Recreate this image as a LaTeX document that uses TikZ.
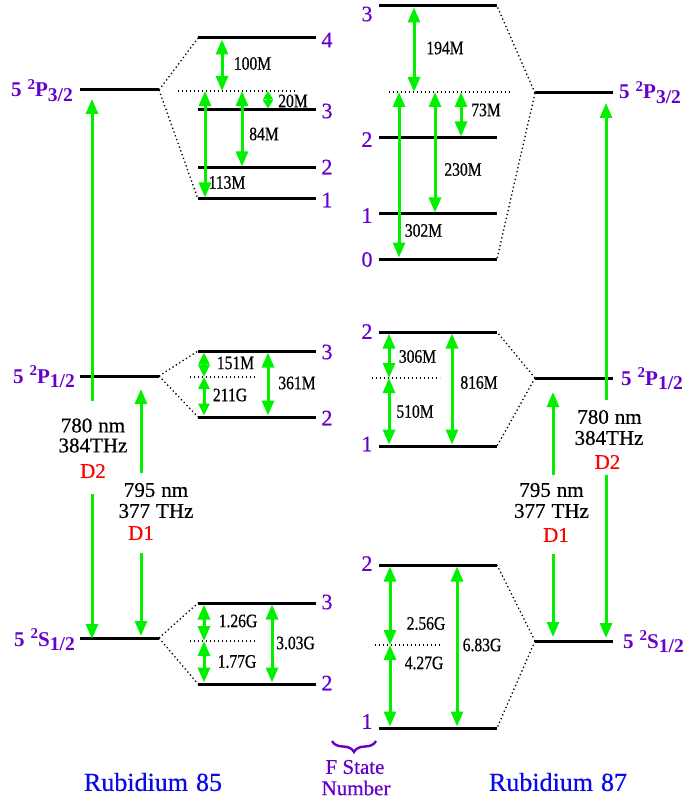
\documentclass[tikz,border=0pt]{standalone}
\usepackage{fontspec}
\setmainfont{Liberation Serif}
\newfontfamily\condf[FakeStretch=0.82,FakeBold=0.6]{Liberation Serif}
\newfontfamily\heavyf[FakeBold=0.5]{Liberation Serif}
\usetikzlibrary{arrows.meta,decorations.pathreplacing}
\definecolor{grn}{RGB}{0,240,0}
\definecolor{purp}{RGB}{102,0,204}
\definecolor{rbblue}{RGB}{10,10,230}
\definecolor{dred}{RGB}{255,0,0}
\newcommand{\termlab}[2]{5\hspace{6pt}\raisebox{7.5pt}{\fontsize{15}{15}\selectfont 2}#1\raisebox{-4.5pt}{\fontsize{19.5}{19.5}\selectfont #2}}
\begin{document}
\begin{tikzpicture}[x=1pt,y=-1pt,
 lvl/.style={draw=black,line width=3pt},
 fan/.style={draw=black,line width=1.3pt,dash pattern=on 1.3pt off 2.7pt},
 garr/.style={draw=grn,line width=3pt,{Triangle[width=12pt,length=15pt]}-{Triangle[width=12pt,length=15pt]}},
 gtip/.style={draw=grn,line width=3pt,-{Triangle[width=12pt,length=15pt]}},
 garrs/.style={draw=grn,line width=3pt,{Triangle[width=11pt,length=12pt]}-{Triangle[width=11pt,length=12pt]}},
 garrxs/.style={draw=grn,line width=3pt,{Triangle[width=10pt,length=8.5pt]}-{Triangle[width=10pt,length=8.5pt]}},
 hf/.style={inner sep=0pt,font=\condf\fontsize{19}{19}\selectfont},
 fnum/.style={inner sep=0pt,text=purp,font=\heavyf\fontsize{22}{22}\selectfont},
 term/.style={inner sep=0pt,text=purp,font=\bfseries\fontsize{21}{21}\selectfont},
 wave/.style={inner sep=0pt,font=\heavyf\fontsize{21}{21}\selectfont},
 dlab/.style={inner sep=0pt,text=dred,font=\heavyf\fontsize{21}{21}\selectfont},
 title/.style={inner sep=0pt,text=rbblue,font=\heavyf\fontsize{26}{26}\selectfont},
 fstate/.style={inner sep=0pt,text=purp,font=\heavyf\fontsize{21}{21}\selectfont},
]
\useasboundingbox (0,0) rectangle (693,802);

% ---------------- Rubidium 85 : fine-structure levels
\coordinate (a3L) at (80,90);  \coordinate (a3R) at (159,90);
\coordinate (a1L) at (80,376); \coordinate (a1R) at (159,376);
\coordinate (aSL) at (80,638); \coordinate (aSR) at (159,638);
\draw[lvl] (a3L) -- (a3R);
\draw[lvl] (a1L) -- (a1R);
\draw[lvl] (aSL) -- (aSR);
\node[term,anchor=base east] (ta3) at (73,97) {\termlab{P}{3/2}};
\node[term,anchor=base east] (ta1) at (75,383) {\termlab{P}{1/2}};
\node[term,anchor=base east] (taS) at (75,646) {\termlab{S}{1/2}};

% Rb85 P3/2 hyperfine
\coordinate (a3F4L) at (198,38);  \coordinate (a3F4R) at (316,38);
\coordinate (a3F3L) at (198,110); \coordinate (a3F3R) at (316,110);
\coordinate (a3F2L) at (198,168); \coordinate (a3F2R) at (316,168);
\coordinate (a3F1L) at (198,199); \coordinate (a3F1R) at (316,199);
\coordinate (a3CL) at (178,91);   \coordinate (a3CR) at (298,91);
\draw[lvl] (a3F4L) -- (a3F4R);
\draw[lvl] (a3F3L) -- (a3F3R);
\draw[lvl] (a3F2L) -- (a3F2R);
\draw[lvl] (a3F1L) -- (a3F1R);
\draw[fan] (a3CL) -- (a3CR);
\draw[fan] (a3R) -- (a3F4L);
\draw[fan] (a3R) -- (a3F1L);
\node[fnum] (na4) at (327,40) {4};
\node[fnum] (na3) at (327,111) {3};
\node[fnum] (na2) at (327,167) {2};
\node[fnum] (na1) at (327,200) {1};
\coordinate (p100t) at (222,39.5); \coordinate (p100b) at (222,91);
\coordinate (p20t) at (268,91);    \coordinate (p20b) at (268,108.5);
\coordinate (p84t) at (242,91);    \coordinate (p84b) at (242,166.5);
\coordinate (p113t) at (205,91);   \coordinate (p113b) at (205,197.5);
\draw[garr] (p100t) -- (p100b);
\draw[garrxs] (p20t) -- (p20b);
\draw[garr] (p84t) -- (p84b);
\draw[garr] (p113t) -- (p113b);
\node[hf] (l100) at (252.5,63.5) {100M};
\node[hf] (l20) at (293,101) {20M};
\node[hf] (l84) at (264,134) {84M};
\node[hf] (l113) at (227,182.5) {113M};

% Rb85 P1/2 hyperfine
\coordinate (a1F3L) at (198,351); \coordinate (a1F3R) at (316,351);
\coordinate (a1F2L) at (198,417); \coordinate (a1F2R) at (316,417);
\coordinate (a1CL) at (190,377);  \coordinate (a1CR) at (257,377);
\draw[lvl] (a1F3L) -- (a1F3R);
\draw[lvl] (a1F2L) -- (a1F2R);
\draw[fan] (a1CL) -- (a1CR);
\draw[fan] (a1R) -- (a1F3L);
\draw[fan] (a1R) -- (a1F2L);
\node[fnum] (nb3) at (327,352) {3};
\node[fnum] (nb2) at (327,418) {2};
\coordinate (q151t) at (204,352.5); \coordinate (q151b) at (204,377);
\coordinate (q211t) at (204,377);   \coordinate (q211b) at (204,415.5);
\coordinate (q361t) at (268,352.5); \coordinate (q361b) at (268,415.5);
\draw[garrs] (q151t) -- (q151b);
\draw[garrs] (q211t) -- (q211b);
\draw[garr] (q361t) -- (q361b);
\node[hf] (l151) at (235.5,363) {151M};
\node[hf] (l211) at (230,395) {211G};
\node[hf] (l361) at (297,383) {361M};

% Rb85 S1/2 hyperfine
\coordinate (aSF3L) at (198,603); \coordinate (aSF3R) at (316,603);
\coordinate (aSF2L) at (198,684); \coordinate (aSF2R) at (316,684);
\coordinate (aSCL) at (190,641);  \coordinate (aSCR) at (257,641);
\draw[lvl] (aSF3L) -- (aSF3R);
\draw[lvl] (aSF2L) -- (aSF2R);
\draw[fan] (aSCL) -- (aSCR);
\draw[fan] (aSR) -- (aSF3L);
\draw[fan] (aSR) -- (aSF2L);
\node[fnum] (nc3) at (327,602) {3};
\node[fnum] (nc2) at (327,683) {2};
\coordinate (s126t) at (204,604.5); \coordinate (s126b) at (204,641);
\coordinate (s177t) at (204,641);   \coordinate (s177b) at (204,682.5);
\coordinate (s303t) at (272,604.5); \coordinate (s303b) at (272,682.5);
\draw[garr] (s126t) -- (s126b);
\draw[garr] (s177t) -- (s177b);
\draw[garr] (s303t) -- (s303b);
\node[hf] (l126) at (238,621) {1.26G};
\node[hf] (l177) at (237,661.5) {1.77G};
\node[hf] (l303) at (295.5,643) {3.03G};

% Rb85 optical transitions
\coordinate (d2aTop) at (92,99);  \coordinate (d2aGT) at (92,401);
\coordinate (d2aGB) at (92,494);  \coordinate (d2aBot) at (92,639);
\draw[gtip] (d2aGT) -- (d2aTop);
\draw[gtip] (d2aGB) -- (d2aBot);
\coordinate (d1aTop) at (141,389); \coordinate (d1aGT) at (141,473);
\coordinate (d1aGB) at (141,553);  \coordinate (d1aBot) at (141,636);
\draw[gtip] (d1aGT) -- (d1aTop);
\draw[gtip] (d1aGB) -- (d1aBot);
\node[wave] (wa1) at (93,425.5) {780\hspace{6pt}nm};
\node[wave] (wa2) at (93,445.5) {384THz};
\node[dlab] (wa3) at (93,471) {D2};
\node[wave] (wb1) at (156,490) {795\hspace{6pt}nm};
\node[wave] (wb2) at (156,511) {377\hspace{6pt}THz};
\node[dlab] (wb3) at (141,533) {D1};

% ---------------- Rubidium 87 : fine-structure levels
\coordinate (b3L) at (535,93);  \coordinate (b3R) at (613,93);
\coordinate (b1L) at (535,378); \coordinate (b1R) at (613,378);
\coordinate (bSL) at (535,641); \coordinate (bSR) at (613,641);
\draw[lvl] (b3L) -- (b3R);
\draw[lvl] (b1L) -- (b1R);
\draw[lvl] (bSL) -- (bSR);
\node[term,anchor=base west] (tb3) at (619,99) {\termlab{P}{3/2}};
\node[term,anchor=base west] (tb1) at (621,385) {\termlab{P}{1/2}};
\node[term,anchor=base west] (tbS) at (623,648) {\termlab{S}{1/2}};

% Rb87 P3/2 hyperfine
\coordinate (b3F3L) at (379,6);   \coordinate (b3F3R) at (497,6);
\coordinate (b3F2L) at (379,138); \coordinate (b3F2R) at (497,138);
\coordinate (b3F1L) at (379,214); \coordinate (b3F1R) at (497,214);
\coordinate (b3F0L) at (379,259); \coordinate (b3F0R) at (497,259);
\coordinate (b3CL) at (389,92);   \coordinate (b3CR) at (511,92);
\draw[lvl] (b3F3L) -- (b3F3R);
\draw[lvl] (b3F2L) -- (b3F2R);
\draw[lvl] (b3F1L) -- (b3F1R);
\draw[lvl] (b3F0L) -- (b3F0R);
\draw[fan] (b3CL) -- (b3CR);
\draw[fan] (b3L) -- (b3F3R);
\draw[fan] (b3L) -- (b3F0R);
\node[fnum] (nd3) at (367,14) {3};
\node[fnum] (nd2) at (367,139.5) {2};
\node[fnum] (nd1) at (367,215.5) {1};
\node[fnum] (nd0) at (367,259.5) {0};
\coordinate (r194t) at (414,7.5);  \coordinate (r194b) at (414,92);
\coordinate (r73t) at (461,92);    \coordinate (r73b) at (461,136.5);
\coordinate (r230t) at (435,92);   \coordinate (r230b) at (435,212.5);
\coordinate (r302t) at (399,92);   \coordinate (r302b) at (399,257.5);
\draw[garr] (r194t) -- (r194b);
\draw[garr] (r73t) -- (r73b);
\draw[garr] (r230t) -- (r230b);
\draw[garr] (r302t) -- (r302b);
\node[hf] (l194) at (445,48) {194M};
\node[hf] (l73) at (486,110) {73M};
\node[hf] (l230) at (463,169.5) {230M};
\node[hf] (l302) at (423.5,230.5) {302M};

% Rb87 P1/2 hyperfine
\coordinate (b1F2L) at (379,332); \coordinate (b1F2R) at (497,332);
\coordinate (b1F1L) at (379,446); \coordinate (b1F1R) at (497,446);
\coordinate (b1CL) at (372,378);  \coordinate (b1CR) at (440,378);
\draw[lvl] (b1F2L) -- (b1F2R);
\draw[lvl] (b1F1L) -- (b1F1R);
\draw[fan] (b1CL) -- (b1CR);
\draw[fan] (b1L) -- (b1F2R);
\draw[fan] (b1L) -- (b1F1R);
\node[fnum] (ne2) at (367,331.5) {2};
\node[fnum] (ne1) at (367,444) {1};
\coordinate (u306t) at (389,333.5); \coordinate (u306b) at (389,378);
\coordinate (u510t) at (389,378);   \coordinate (u510b) at (389,444.5);
\coordinate (u816t) at (452,333.5); \coordinate (u816b) at (452,444.5);
\draw[garr] (u306t) -- (u306b);
\draw[garr] (u510t) -- (u510b);
\draw[garr] (u816t) -- (u816b);
\node[hf] (l306) at (417.5,356.5) {306M};
\node[hf] (l510) at (415,411.5) {510M};
\node[hf] (l816) at (479,382.5) {816M};

% Rb87 S1/2 hyperfine
\coordinate (bSF2L) at (379,565); \coordinate (bSF2R) at (497,565);
\coordinate (bSF1L) at (379,728); \coordinate (bSF1R) at (497,728);
\coordinate (bSCL) at (375,645);  \coordinate (bSCR) at (442,645);
\draw[lvl] (bSF2L) -- (bSF2R);
\draw[lvl] (bSF1L) -- (bSF1R);
\draw[fan] (bSCL) -- (bSCR);
\draw[fan] (bSL) -- (bSF2R);
\draw[fan] (bSL) -- (bSF1R);
\node[fnum] (nf2) at (367,563.5) {2};
\node[fnum] (nf1) at (367,721.5) {1};
\coordinate (v256t) at (390,566.5); \coordinate (v256b) at (390,645);
\coordinate (v427t) at (390,645);   \coordinate (v427b) at (390,726.5);
\coordinate (v683t) at (457,566.5); \coordinate (v683b) at (457,726.5);
\draw[garr] (v256t) -- (v256b);
\draw[garr] (v427t) -- (v427b);
\draw[garr] (v683t) -- (v683b);
\node[hf] (l256) at (426,623.5) {2.56G};
\node[hf] (l427) at (424,663) {4.27G};
\node[hf] (l683) at (482,645) {6.83G};

% Rb87 optical transitions
\coordinate (d2bTop) at (606,103); \coordinate (d2bGT) at (606,400);
\coordinate (d2bGB) at (606,475);  \coordinate (d2bBot) at (606,638);
\draw[gtip] (d2bGT) -- (d2bTop);
\draw[gtip] (d2bGB) -- (d2bBot);
\coordinate (d1bTop) at (553,392); \coordinate (d1bGT) at (553,475);
\coordinate (d1bGB) at (553,554);  \coordinate (d1bBot) at (553,637);
\draw[gtip] (d1bGT) -- (d1bTop);
\draw[gtip] (d1bGB) -- (d1bBot);
\node[wave] (wc1) at (609.5,417) {780\hspace{6pt}nm};
\node[wave] (wc2) at (609,438) {384THz};
\node[dlab] (wc3) at (607.5,462) {D2};
\node[wave] (wd1) at (551.5,490) {795\hspace{6pt}nm};
\node[wave] (wd2) at (551.5,511) {377\hspace{6pt}THz};
\node[dlab] (wd3) at (556,535) {D1};

% ---------------- bottom captions
\coordinate (brR) at (376,741); \coordinate (brL) at (332,741);
\draw[purp,line width=2.4pt,decorate,decoration={brace,amplitude=11pt}] (brR) -- (brL);
\node[fstate] (fs1) at (355,767) {F State};
\node[fstate] (fs2) at (356,788) {Number};
\node[title] (rb85) at (153,782) {Rubidium\hspace{8pt}85};
\node[title] (rb87) at (558,782) {Rubidium\hspace{8pt}87};
\end{tikzpicture}
\end{document}
